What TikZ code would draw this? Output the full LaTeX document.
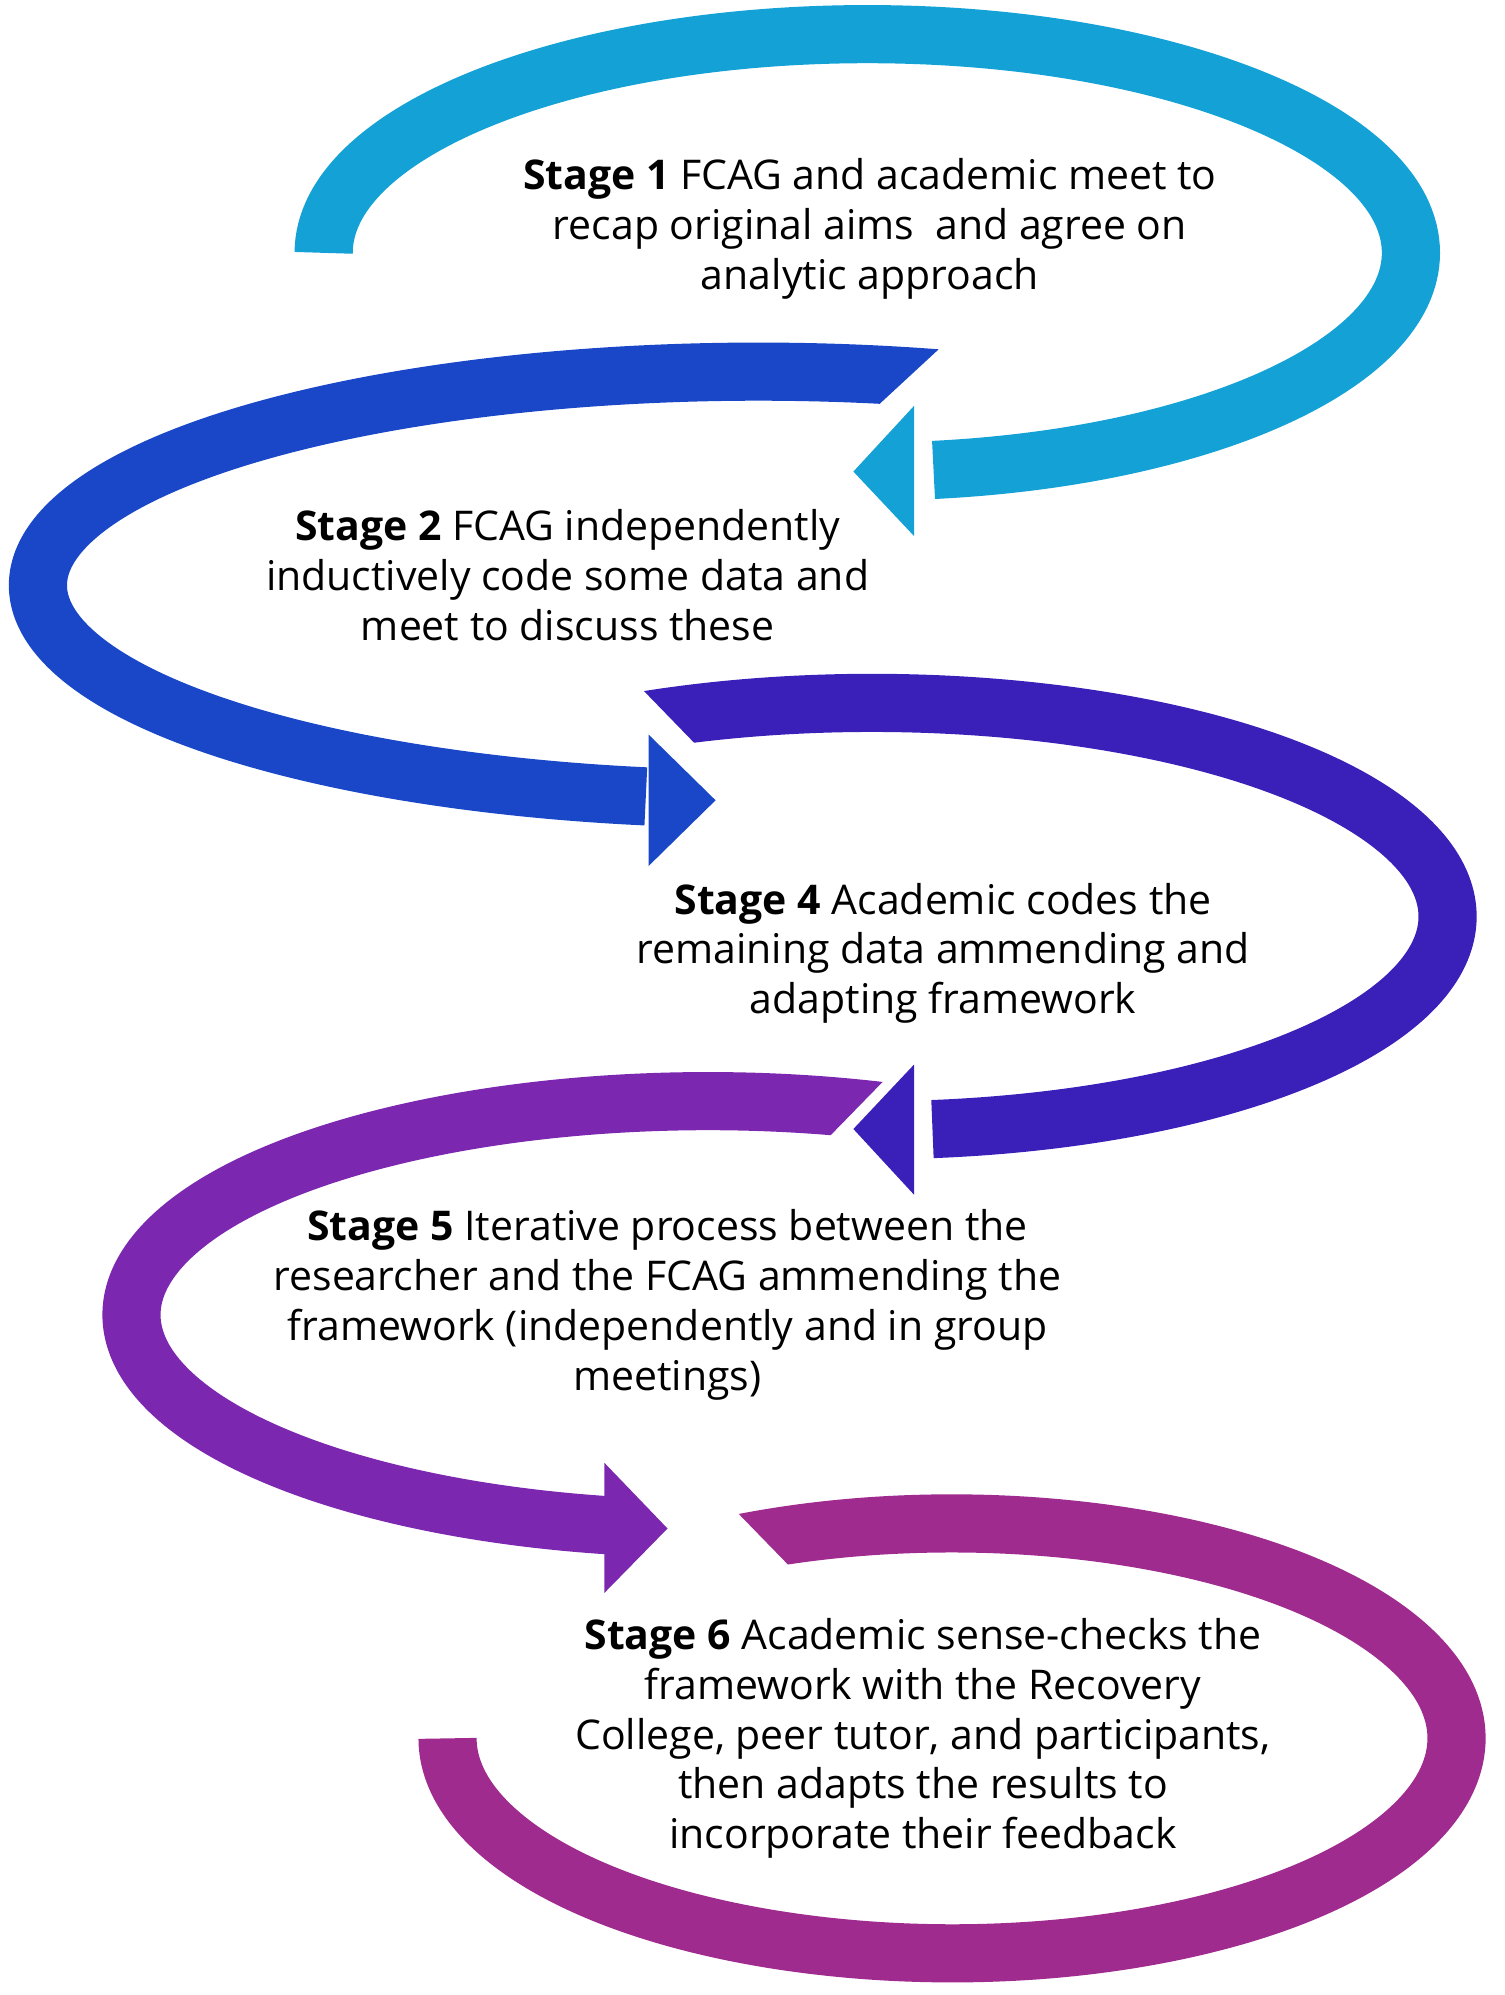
\documentclass[tikz,border=0pt]{standalone}
\usepackage{fontspec}
\setmainfont{Open Sans}
\definecolor{cA}{HTML}{13A1D6}
\definecolor{cB}{HTML}{1947C7}
\definecolor{cC}{HTML}{3B1FB9}
\definecolor{cD}{HTML}{7C27AF}
\definecolor{cE}{HTML}{A02B8F}
\begin{document}
\begin{tikzpicture}[x=0.5pt,y=0.5pt,
  band/.style={line width=23pt},
  lbl/.style={align=center,font=\fontsize{16.2}{19.7}\selectfont,inner sep=0pt}]
\useasboundingbox (0,0) rectangle (1190,-1578);
% Arc 1
\draw[band,cA] (686,-200) ++(180:430 and 173) arc[start angle=180,end angle=-83,x radius=430,y radius=173];
\fill[cA] (675,-373) -- (723,-321) -- (723,-424) -- cycle;
% Arc 2
\begin{scope}
\clip (-100,100)--(1300,100)--(1300,-40)--(998,-40)--(600,-408)--(1300,-408)--(1300,-1700)--(-100,-1700)--cycle;
\draw[band,cB] (600,-463) ++(72:570 and 169) arc[start angle=72,end angle=261,x radius=570,y radius=169];
\end{scope}
\fill[cB] (566,-633) -- (513,-581) -- (513,-685) -- cycle;
% Arc 3
\begin{scope}
\clip (-100,100)--(1300,100)--(1300,-1700)--(-100,-1700)--(-100,-640)--(600,-640)--(435,-470)--(-100,-470)--cycle;
\draw[band,cC] (690,-725) ++(114:455 and 169) arc[start angle=114,end angle=-84,x radius=455,y radius=169];
\end{scope}
\fill[cC] (675,-893) -- (723,-842) -- (723,-945) -- cycle;
% Arc 4
\begin{scope}
\clip (-100,100)--(1300,100)--(1300,-780)--(772,-780)--(577,-980)--(1300,-980)--(1300,-1700)--(-100,-1700)--cycle;
\draw[band,cD] (560,-1040) ++(70:456 and 169) arc[start angle=70,end angle=260,x radius=456,y radius=169];
\end{scope}
\fill[cD] (528,-1209) -- (478,-1157) -- (478,-1260) -- cycle;
% Arc 5
\begin{scope}
\clip (-100,100)--(1300,100)--(1300,-1700)--(-100,-1700)--(-100,-1300)--(684,-1300)--(509,-1120)--(-100,-1120)--cycle;
\draw[band,cE] (753,-1375) ++(116:399 and 170) arc[start angle=116,end angle=-180,x radius=399,y radius=170];
\end{scope}
% Texts
\node[lbl] (s1) at (688,-181) {\textbf{Stage 1} FCAG and academic meet to\\recap original aims\ \ and agree on\\analytic approach};
\node[lbl] (s2) at (449,-455) {\textbf{Stage 2} FCAG independently\\inductively code some data and\\meet to discuss these};
\node[lbl] (s4) at (746,-754) {\textbf{Stage 4} Academic codes the\\remaining data ammending and\\adapting framework};
\node[lbl] (s5) at (528,-1032) {\textbf{Stage 5} Iterative process between the\\researcher and the FCAG ammending the\\framework (independently and in group\\meetings)};
\node[lbl] (s6) at (730,-1375) {\textbf{Stage 6} Academic sense-checks the\\framework with the Recovery\\College, peer tutor, and participants,\\then adapts the results to\\incorporate their feedback};
\end{tikzpicture}
\end{document}
